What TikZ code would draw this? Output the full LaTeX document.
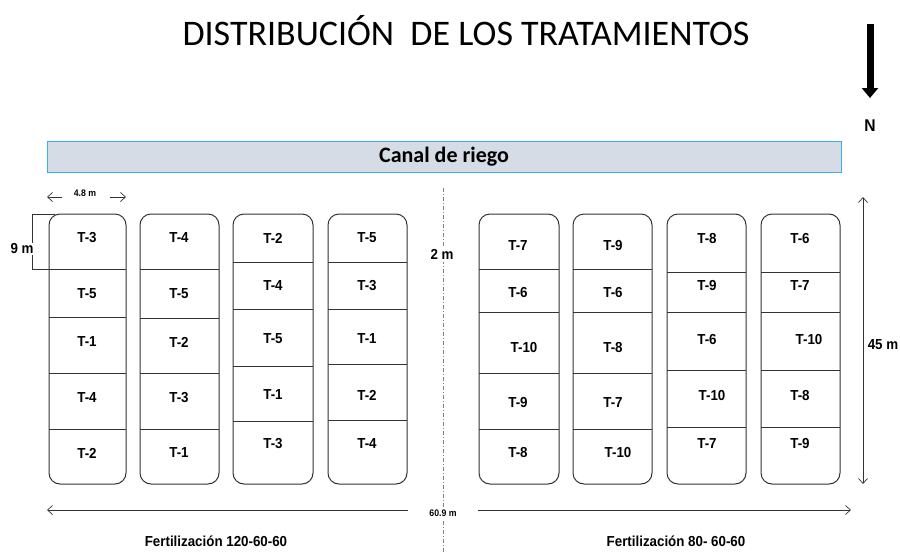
\documentclass[tikz,border=0pt]{standalone}
\usepackage{fontspec}
\setmainfont{Liberation Sans}
\newfontfamily\titlefont{Carlito}
\newfontfamily\narrowbold[FakeStretch=0.92]{Liberation Sans Bold}
\usetikzlibrary{arrows.meta}
\definecolor{canalfill}{HTML}{D6DCE5}
\definecolor{canalline}{HTML}{3DAEE9}
\definecolor{plotline}{HTML}{333333}
\tikzset{
  lbl/.style={font=\narrowbold\fontsize{14.5}{15}\selectfont, inner sep=0pt},
  dimlbl/.style={font=\narrowbold\fontsize{14.5}{15}\selectfont, inner sep=1pt, fill=white},
  smalllbl/.style={font=\narrowbold\fontsize{9.5}{10}\selectfont, inner sep=1pt, fill=white},
  plot/.style={draw=plotline, line width=1pt},
  dimline/.style={draw=plotline, line width=0.7pt},
  barb/.style={-{Straight Barb[length=5pt,width=9pt]}},
}
\begin{document}
\begin{tikzpicture}[x=1pt,y=-1pt]
\useasboundingbox (0,0) rectangle (900,552);
% title
\node[font=\titlefont\fontsize{36}{36}\selectfont, inner sep=0pt] (title) at (466,31) {DISTRIBUCIÓN\ \ DE LOS TRATAMIENTOS};
% north arrow
\coordinate (nA) at (870,24);
\coordinate (nB) at (870,98);
\draw[line width=7pt, -{Triangle[length=10pt,width=16pt]}] (nA) -- (nB);
\node[font=\narrowbold\fontsize{17}{17}\selectfont, inner sep=0pt] (north) at (870,126) {N};
% canal
\node[draw=canalline, fill=canalfill, line width=0.9pt, minimum width=794pt, minimum height=31pt, inner sep=0pt,
      font=\titlefont\bfseries\fontsize{22}{22}\selectfont] (canal) at (444,157) {Canal de riego};
% dashed centre line
\coordinate (dTop) at (443,188);
\coordinate (dBot) at (443,552);
\draw[draw=gray, line width=0.7pt, dash pattern=on 4pt off 2pt on 1pt off 2pt] (dTop) -- (dBot);
% columns
\foreach \xa/\xb/\da/\db/\dc/\dd [count=\i] in {
  49/126/269/317/373/429,
  140/219/269/318/373/429,
  233/313/262/309/366/421,
  328/407/262/309/364/420,
  479/559/269/312/373/429,
  573/652/269/312/373/429,
  667/746/272/312/370/427,
  761/840/272/312/370/427}{
  \draw[plot, rounded corners=11pt] (\xa,214) rectangle (\xb,484);
  \foreach \d in {\da,\db,\dc,\dd}{\draw[plot] (\xa,\d) -- (\xb,\d);}
}
% labels
\foreach \x/\y/\t [count=\k] in {
  87/238/T-3, 87/294/T-5, 87/342/T-1, 87/398/T-4, 87/453/T-2,
  179/238/T-4, 179/294/T-5, 179/342/T-2, 179/398/T-3, 179/453/T-1,
  273/238/T-2, 273/286/T-4, 273/339/T-5, 273/395/T-1, 273/444/T-3,
  367/238/T-5, 367/286/T-3, 367/339/T-1, 367/395/T-2, 367/444/T-4,
  518/246/T-7, 518/293/T-6, 524/348/T-10, 518/403/T-9, 518/453/T-8,
  613/246/T-9, 613/293/T-6, 613/348/T-8, 613/403/T-7, 618/453/T-10,
  707/239/T-8, 707/286/T-9, 707/340/T-6, 712/396/T-10, 707/444/T-7,
  800/239/T-6, 800/286/T-7, 809/340/T-10, 800/396/T-8, 800/444/T-9}{
  \node[lbl] (t\k) at (\x,\y) {\t};
}
% 9 m bracket
\coordinate (bA) at (55,214);
\coordinate (bB) at (32,214);
\coordinate (bC) at (32,269);
\coordinate (bD) at (50,269);
\draw[dimline] (bA) -- (bB) -- (bC) -- (bD);
\node[dimlbl, inner sep=0.5pt] (nine) at (22,249) {9 m};
% 4.8 m
\node[smalllbl] (w48) at (85,193) {4.8 m};
\coordinate (wL) at (47,197);
\coordinate (wLs) at (62,197);
\coordinate (wR) at (126,197);
\coordinate (wRs) at (110,197);
\draw[dimline, barb] (wLs) -- (wL);
\draw[dimline, barb] (wRs) -- (wR);
% 2 m
\node[dimlbl, inner sep=3pt] (two) at (442,254) {2 m};
% 45 m
\coordinate (hT) at (863,197);
\coordinate (hB) at (863,484);
\draw[dimline, {Straight Barb[length=5pt,width=9pt]}-{Straight Barb[length=5pt,width=9pt]}] (hT) -- (hB);
\node[dimlbl, fill=none] (h45) at (883,345) {45 m};
% 60.9 m
\node[smalllbl, inner sep=3pt] (w609) at (443,513) {60.9 m};
\coordinate (bL) at (47,510);
\coordinate (bR) at (851,510);
\coordinate (bLs) at (408,510);
\coordinate (bRs) at (478,510);
\draw[dimline, barb] (bLs) -- (bL);
\draw[dimline, barb] (bRs) -- (bR);
% bottom captions
\node[lbl] (fert1) at (216,541) {Fertilización 120-60-60};
\node[lbl] (fert2) at (676,541) {Fertilización 80- 60-60};
\end{tikzpicture}
\end{document}
